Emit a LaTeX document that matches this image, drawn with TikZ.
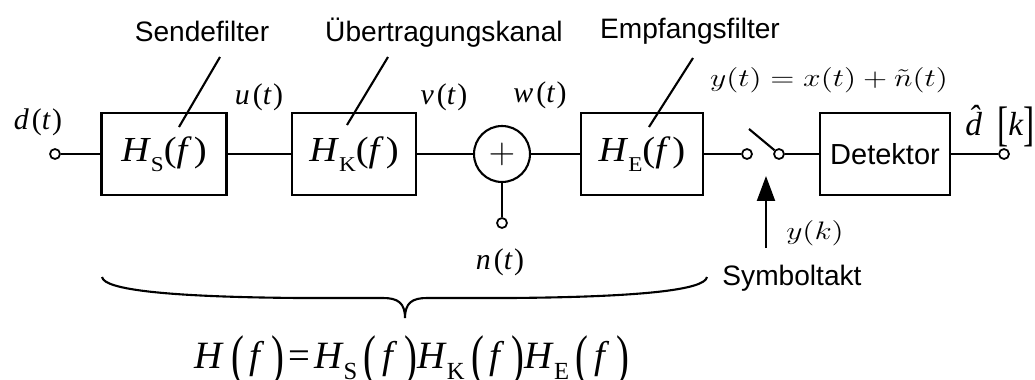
\documentclass[tikz,border=0pt]{standalone}
\usepackage{fontspec}
\usepackage{graphicx}
\newfontfamily\lblsans{Liberation Sans}
\newfontfamily\tmsfont{Liberation Serif}
\usetikzlibrary{arrows.meta}

% math-like labels
\newcommand{\sig}[2]{{\tmsfont\fontsize{17}{19}\selectfont\textit{#1}\kern0.1em(\textit{#2}\kern0.05em)}}
\newcommand{\subidx}[1]{\raisebox{-0.3em}{\fontsize{12}{12}\selectfont #1}}
\newcommand{\tfn}[1]{\scalebox{1.1}[1]{\tmsfont\fontsize{20}{22}\selectfont\textit{H}\subidx{#1}(\textit{f}\kern0.05em)}}
\newcommand{\cmlbl}[1]{\scalebox{1.25}[1]{\fontsize{14}{16}\selectfont$#1$}}
\newcommand{\tallp}[1]{\raisebox{-0.16em}{\scalebox{1}[1.45]{#1}}}
\newcommand{\fpar}{\kern0.17em\tallp{(}\kern0.15em\textit{f}\kern0.17em\tallp{)}}
\newcommand{\bigsub}[1]{\raisebox{-0.3em}{\fontsize{14}{14}\selectfont #1}}

\begin{document}
\begin{tikzpicture}[x=0.02cm, y=-0.02cm,
  wire/.style={line width=1.2pt},
  block/.style={draw, line width=1.2pt, minimum height=1.64cm, inner sep=0pt},
  port/.style={draw, circle, line width=1pt, fill=white, minimum size=0.2cm, inner sep=0pt},
  sumnode/.style={draw, circle, line width=1.2pt, minimum size=1.12cm, inner sep=0pt},
  lbl/.style={font=\lblsans\fontsize{16}{19}\selectfont},
]
\useasboundingbox (0,0) rectangle (1035,379);

% Blocks along the signal path
\node[port] (in) at (55,154) {};
\node[block, minimum width=2.5cm] (hs) at (164,154) {\tfn{S}};
\node[block, minimum width=2.48cm] (hk) at (354,154) {\tfn{K}};
\node[sumnode] (sum) at (502,154) {\fontsize{20}{20}\selectfont$+$};
\node[block, minimum width=2.44cm] (he) at (642,154) {\tfn{E}};
\node[port] (sl) at (747,154) {};
\node[port] (sr) at (779,154) {};
\node[block, minimum width=2.6cm, lbl, font=\lblsans\fontsize{16.5}{19}\selectfont] (det) at (885,154) {Detektor};
\node[port] (out) at (1004,154) {};
\node[port] (noise) at (502,223) {};

% Connections
\draw[wire] (in) -- (hs);
\draw[wire] (hs) -- (hk);
\draw[wire] (hk) -- (sum);
\draw[wire] (sum) -- (he);
\draw[wire] (he) -- (sl);
\draw[wire] (sr) -- (det);
\draw[wire] (det) -- (out);
\draw[wire] (noise) -- (sum);

% Switch lever and clock arrow
\coordinate (lever) at (749,129);
\draw[wire] (sr.140) -- (lever);
\coordinate (clk) at (766,248);
\coordinate (clktip) at (766,176);
\draw[wire, -{Triangle[length=0.5cm, width=0.36cm]}] (clk) -- (clktip);

% Block names with leader lines
\node[lbl, anchor=base] (hsname) at (202,41) {Sendefilter};
\node[lbl, anchor=base] (hkname) at (444,41) {Übertragungskanal};
\node[lbl, anchor=base] (hename) at (690,38) {Empfangsfilter};
\coordinate (hsa) at (220,57);  \coordinate (hsb) at (179,127);
\coordinate (hka) at (388,57);  \coordinate (hkb) at (347,125);
\coordinate (hea) at (693,58);  \coordinate (heb) at (649,127);
\draw[wire] (hsa) -- (hsb);
\draw[wire] (hka) -- (hkb);
\draw[wire] (hea) -- (heb);

% Signal labels
\node (dt) at (38,122) {\sig{d}{t}};
\node (ut) at (259,97) {\sig{u}{t}};
\node (vt) at (444,97) {\sig{v}{t}};
\node (wt) at (540,95) {\sig{w}{t}};
\node (nt) at (500,262) {\sig{n}{t}};
\node (yt) at (829,80) {\cmlbl{y(t) = x(t) + \tilde{n}(t)}};
\node (yk) at (815,233) {\cmlbl{y(k)}};
\node (dk) at (1000,126) {\tmsfont\fontsize{19}{21}\selectfont\textit{\^d}\kern0.08em\tallp{[}\textit{k}\tallp{]}};
\node[lbl] (takt) at (792,278) {Symboltakt};

% Overall transfer function
\coordinate (bl) at (102,277);
\coordinate (br) at (707,277);
\coordinate (bt) at (405,318);
\draw[wire] (bl) .. controls (104,290) and (170,297) .. (300,298) -- (383,298)
  .. controls (398,298) and (405,303) .. (bt)
  .. controls (405,303) and (412,298) .. (427,298) -- (510,298)
  .. controls (640,297) and (705,290) .. (br);
\node[anchor=base, font=\tmsfont\fontsize{22}{26}\selectfont] (htot) at (412,368)
  {\textit{H}\fpar\kern0.1em=\kern0.1em\textit{H}\bigsub{S}\fpar\textit{H}\bigsub{K}\fpar\textit{H}\bigsub{E}\fpar};
\end{tikzpicture}
\end{document}
